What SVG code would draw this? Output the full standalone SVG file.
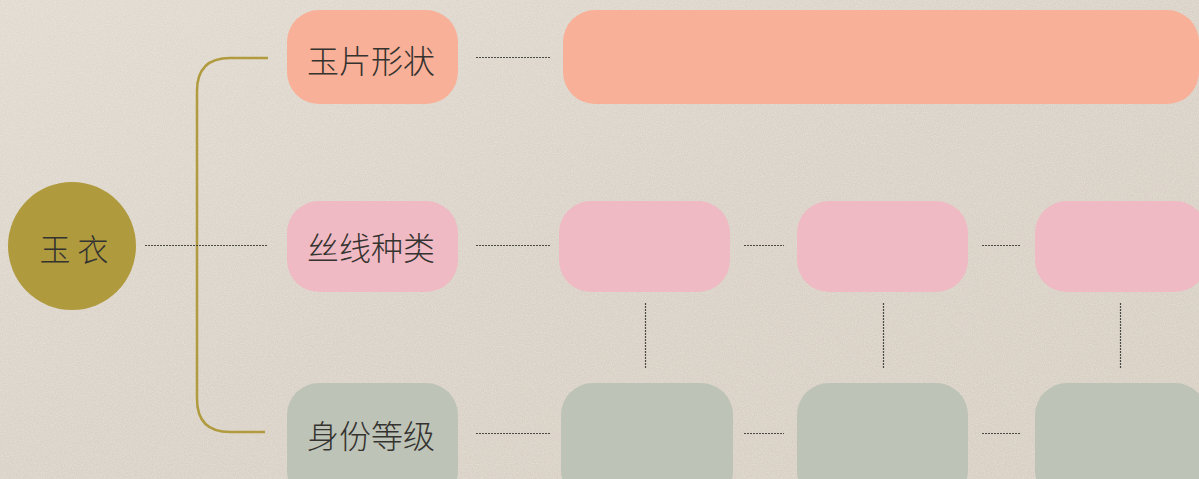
<svg xmlns="http://www.w3.org/2000/svg" width="1199" height="479" viewBox="0 0 1199 479">
<defs>
<linearGradient id="bg" x1="0" y1="0" x2="1" y2="1">
<stop offset="0" stop-color="#e1dad0"/>
<stop offset="0.5" stop-color="#dad2c7"/>
<stop offset="1" stop-color="#d8cfc3"/>
</linearGradient>
<filter id="grain" x="0" y="0" width="100%" height="100%">
<feTurbulence type="fractalNoise" baseFrequency="0.9" numOctaves="2" seed="3" result="n"/>
<feColorMatrix in="n" type="matrix" values="0 0 0 0 1  0 0 0 0 1  0 0 0 0 1  0 0 0 -1.6 1.05" result="w"/>
<feComposite in="w" in2="SourceGraphic" operator="in"/>
</filter>
</defs>
<style>
.dot{stroke:#4a4a44;stroke-width:1.2;stroke-dasharray:2 1;fill:none}
.brk{stroke:#b09b3f;stroke-width:2.5;fill:none}
.salmon{fill:#f9b098}
.pink{fill:#efbac3}
.sage{fill:#bec3b7}
.lbl{font-family:"Noto Sans CJK SC","Noto Sans",sans-serif;font-weight:300;font-size:32px;fill:#353330;text-anchor:middle;dominant-baseline:central}
</style>
<rect width="1199" height="479" fill="url(#bg)"/>
<rect width="1199" height="479" fill="#ffffff" filter="url(#grain)" opacity="0.3"/>

<g id="connectors">
<path class="brk" d="M268 58 H230 Q197 58 197 91 V399 Q197 432 230 432 H265"/>
<line class="dot" x1="145" y1="245.5" x2="268" y2="245.5"/>
<line class="dot" x1="476" y1="57.5" x2="550" y2="57.5"/>
<line class="dot" x1="476" y1="245.5" x2="550" y2="245.5"/>
<line class="dot" x1="476" y1="433.5" x2="550" y2="433.5"/>
<line class="dot" x1="744" y1="245.5" x2="784" y2="245.5"/>
<line class="dot" x1="982" y1="245.5" x2="1021" y2="245.5"/>
<line class="dot" x1="744" y1="433.5" x2="784" y2="433.5"/>
<line class="dot" x1="982" y1="433.5" x2="1021" y2="433.5"/>
<line class="dot" x1="645.5" y1="303" x2="645.5" y2="369"/>
<line class="dot" x1="883.5" y1="303" x2="883.5" y2="369"/>
<line class="dot" x1="1120.5" y1="303" x2="1120.5" y2="369"/>
</g>

<g id="root">
<circle cx="72" cy="246" r="64" fill="#b09a3e"/>
<text class="lbl" x="74" y="247" style="font-size:31px">玉 衣</text>
</g>

<g id="shape">
<rect class="salmon" x="287" y="10" width="171" height="94" rx="32"/>
<text class="lbl" x="371" y="59">玉片形状</text>
</g>
<g id="shape-detail">
<rect class="salmon" x="563" y="10" width="636" height="94" rx="32"/>
</g>

<g id="thread">
<rect class="pink" x="287" y="201" width="171" height="91" rx="32"/>
<text class="lbl" x="371" y="246">丝线种类</text>
</g>
<g id="thread-1"><rect class="pink" x="559" y="201" width="171" height="91" rx="32"/></g>
<g id="thread-2"><rect class="pink" x="797" y="201" width="171" height="91" rx="32"/></g>
<g id="thread-3"><rect class="pink" x="1035" y="201" width="172" height="91" rx="32"/></g>

<g id="rank">
<rect class="sage" x="287" y="383" width="171" height="120" rx="32"/>
<text class="lbl" x="371" y="434">身份等级</text>
</g>
<g id="rank-1"><rect class="sage" x="561" y="383" width="172" height="120" rx="32"/></g>
<g id="rank-2"><rect class="sage" x="797" y="383" width="171" height="120" rx="32"/></g>
<g id="rank-3"><rect class="sage" x="1035" y="383" width="172" height="120" rx="32"/></g>
</svg>
